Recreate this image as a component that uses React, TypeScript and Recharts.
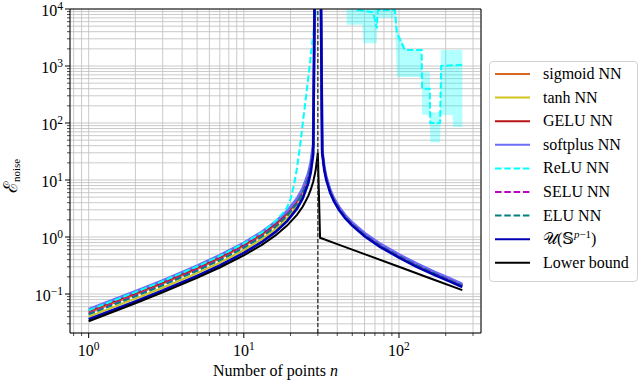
import React from 'react';
import { ComposedChart, Line, Area, XAxis, YAxis, CartesianGrid, ReferenceLine } from 'recharts';

const FONT = '"Liberation Serif", "DejaVu Serif", serif';

// x axis (number of points n), log scale
const xMajor = [1, 10, 100];
const xMajorExp = ['0', '1', '2'];
const xTicks = [0.8, 0.9, 1, 2, 3, 4, 5, 6, 7, 8, 9, 10, 20, 30, 40, 50, 60, 70, 80, 90, 100, 200, 300];

// y axis (noise error), log scale
const yMajor = [0.1, 1, 10, 100, 1000, 10000];
const yMajorExp = ['\u22121', '0', '1', '2', '3', '4'];
const yTicks = [
  0.03, 0.04, 0.05, 0.06, 0.07, 0.08, 0.09, 0.1,
  0.2, 0.3, 0.4, 0.5, 0.6, 0.7, 0.8, 0.9, 1,
  2, 3, 4, 5, 6, 7, 8, 9, 10,
  20, 30, 40, 50, 60, 70, 80, 90, 100,
  200, 300, 400, 500, 600, 700, 800, 900, 1000,
  2000, 3000, 4000, 5000, 6000, 7000, 8000, 9000, 10000,
];

// shared n grid for the smooth NN curves
const nGrid = [1, 2, 3, 5, 7, 10, 13, 16, 19, 22, 24, 26, 27, 28, 29, 30, 31, 32, 33, 34, 36, 38, 41, 45, 50, 60, 75, 100, 130, 170, 210, 256];

const sigmoid = [0.047, 0.098, 0.152, 0.275, 0.42, 0.695, 1.07, 1.62, 2.51, 4.15, 6.34, 11.4, 17.8, 37, 1e6, 1e6, 1e6, 32.1, 16.1, 10.7, 6.42, 4.59, 3.21, 2.29, 1.69, 1.1, 0.728, 0.465, 0.324, 0.231, 0.18, 0.142];
const tanh = [0.04, 0.083, 0.129, 0.233, 0.356, 0.589, 0.91, 1.38, 2.13, 3.52, 5.38, 9.7, 15.1, 31.4, 1e6, 1e6, 1e6, 31.2, 15.6, 10.4, 6.24, 4.46, 3.12, 2.23, 1.64, 1.07, 0.71, 0.452, 0.315, 0.225, 0.175, 0.138];
const gelu = [0.05, 0.104, 0.161, 0.292, 0.445, 0.737, 1.13, 1.72, 2.66, 4.4, 6.72, 12.1, 18.9, 39.2, 1e6, 1e6, 1e6, 33, 16.5, 11, 6.6, 4.71, 3.3, 2.36, 1.74, 1.13, 0.748, 0.479, 0.333, 0.238, 0.185, 0.146];
const softplus = [0.054, 0.111, 0.173, 0.312, 0.477, 0.789, 1.22, 1.85, 2.85, 4.71, 7.2, 13, 20.3, 42, 1e6, 1e6, 1e6, 33.9, 17, 11.3, 6.78, 4.84, 3.39, 2.42, 1.79, 1.17, 0.77, 0.492, 0.342, 0.244, 0.19, 0.15];
const selu = [0.0454, 0.094, 0.146, 0.265, 0.404, 0.668, 1.03, 1.56, 2.41, 3.99, 6.1, 11, 17.1, 35.6, 1e6, 1e6, 1e6, 31.8, 15.9, 10.6, 6.36, 4.54, 3.18, 2.27, 1.67, 1.09, 0.72, 0.461, 0.321, 0.229, 0.178, 0.141];
const elu = [0.044, 0.091, 0.142, 0.256, 0.391, 0.647, 1.0, 1.51, 2.34, 3.86, 5.9, 10.7, 16.6, 34.4, 1e6, 1e6, 1e6, 31.5, 15.8, 10.5, 6.3, 4.5, 3.15, 2.25, 1.66, 1.08, 0.714, 0.457, 0.318, 0.227, 0.176, 0.14];
const uniform = [0.036, 0.074, 0.115, 0.208, 0.318, 0.526, 0.81, 1.23, 1.9, 3.14, 4.8, 8.7, 13.5, 28, 1e6, 1e6, 1e6, 30, 15, 10, 6, 4.29, 3.0, 2.14, 1.58, 1.03, 0.68, 0.435, 0.3, 0.216, 0.168, 0.133];

// ReLU: left branch, right (noisy) branch and its shaded spread
const reluLeftN = [1, 2, 3, 5, 7, 10, 13, 16, 18, 19, 20, 21, 22, 23, 24, 25, 26, 27, 28, 29, 30];
const reluLeft = [0.052, 0.108, 0.168, 0.304, 0.465, 0.77, 1.19, 1.9, 2.7, 3.3, 4.6, 8, 16, 38, 100, 250, 600, 1500, 3500, 8000, 1e6];
const reluRightN = [31, 50, 54, 68, 72, 73, 94, 97, 109, 140, 141, 158, 159, 184, 187, 256];
const reluRight = [1e6, 3e4, 9700, 8800, 4600, 9600, 9600, 3800, 1900, 1900, 400, 400, 100, 100, 1000, 1050];
const bandN = [46, 58, 59, 72, 73, 94, 97, 112, 140, 141, 158, 159, 184, 186, 222, 223, 256];
const bandLow = [5300, 5300, 2500, 2500, 7000, 7000, 640, 640, 640, 140, 140, 46, 46, 138, 138, 85, 85];
const bandHigh = [1e5, 1e5, 1e5, 1e5, 1e5, 1e5, 4300, 1900, 1900, 800, 800, 155, 155, 1900, 1900, 1900, 1900];

const lowerN = [1, 2, 3, 5, 7, 10, 13, 16, 19, 22, 24, 26, 27, 28, 29, 30, 31, 40, 60, 100, 160, 256];
const lowerBound = [0.0333, 0.069, 0.107, 0.192, 0.292, 0.476, 0.722, 1.067, 1.583, 2.444, 3.429, 5.2, 6.75, 9.33, 14.5, 30, 0.968, 0.75, 0.5, 0.3, 0.1875, 0.117];

const pts = (ns: number[], vs: number[]) => ns.map((n, i) => ({ n, v: vs[i] }));
const bandPts = bandN.map((n, i) => ({ n, v: [bandLow[i], bandHigh[i]] }));

const DASH = '6.5 2.8';
const LW = 2;

const series = [
  { name: 'sigmoid NN', color: '#d9681f', dash: undefined, lw: LW, data: pts(nGrid, sigmoid) },
  { name: 'tanh NN', color: '#d0c41c', dash: undefined, lw: LW, data: pts(nGrid, tanh) },
  { name: 'GELU NN', color: '#b81414', dash: undefined, lw: LW, data: pts(nGrid, gelu) },
  { name: 'softplus NN', color: '#6c6cf8', dash: undefined, lw: 2.8, data: pts(nGrid, softplus) },
  { name: 'ReLU NN', color: '#00ffff', dash: DASH, lw: LW, data: pts(reluLeftN, reluLeft) },
  { name: 'SELU NN', color: '#c000c0', dash: DASH, lw: LW, data: pts(nGrid, selu) },
  { name: 'ELU NN', color: '#008080', dash: DASH, lw: LW, data: pts(nGrid, elu) },
  { name: 'U', color: '#0000b4', dash: undefined, lw: 2.6, data: pts(nGrid, uniform) },
  { name: 'Lower bound', color: '#000000', dash: undefined, lw: LW, data: pts(lowerN, lowerBound) },
];

function XTick(props: any) {
  const { x, y, payload } = props;
  const i = xMajor.indexOf(payload.value);
  const major = i >= 0;
  return (
    <g>
      <line x1={x} x2={x} y1={y} y2={y + (major ? 5 : 3)} stroke="#000" strokeWidth={major ? 1 : 0.7} />
      {major && (
        <text x={x} y={y + 23} textAnchor="middle" fontFamily={FONT} fontSize={16} fill="#000">
          10<tspan dy={-6.5} fontSize={11.5}>{xMajorExp[i]}</tspan>
        </text>
      )}
    </g>
  );
}

function YTick(props: any) {
  const { x, y, payload } = props;
  const i = yMajor.indexOf(payload.value);
  const major = i >= 0;
  return (
    <g>
      <line x1={x - (major ? 5 : 3)} x2={x} y1={y} y2={y} stroke="#000" strokeWidth={major ? 1 : 0.7} />
      {major && (
        <text x={x - 7} y={y + 7} textAnchor="end" fontFamily={FONT} fontSize={16} fill="#000">
          10<tspan dy={-6.5} fontSize={11.5}>{yMajorExp[i]}</tspan>
        </text>
      )}
    </g>
  );
}

function LegendBox() {
  const rowH = 23.6;
  return (
    <div
      style={{
        position: 'absolute', left: 489, top: 61, width: 149, height: 221, boxSizing: 'border-box',
        border: '1px solid #d3d3d3', borderRadius: 4, background: 'rgba(255,255,255,0.85)',
      }}
    >
      <svg width={147} height={219} style={{ position: 'absolute', left: 0, top: 0 }}>
        {series.map((s, i) => {
          const cy = 12 + i * rowH;
          return (
            <g key={s.name}>
              <line x1={5} x2={40} y1={cy} y2={cy} stroke={s.color} strokeWidth={LW} strokeDasharray={s.dash} />
              <text x={53} y={cy + 5} fontFamily={FONT} fontSize={16} fill="#000">
                {s.name === 'U' ? (
                  <>
                    {'\u{1D4B0}(\u{1D54A}'}
                    <tspan dy={-6} fontSize={11}>
                      <tspan fontStyle="italic">p</tspan>{'\u22121'}
                    </tspan>
                    <tspan dy={6}>)</tspan>
                  </>
                ) : s.name}
              </text>
            </g>
          );
        })}
      </svg>
    </div>
  );
}

export default function App() {
  return (
    <div style={{ position: 'absolute', left: 0, top: 0, width: 640, height: 382, background: '#fff' }}>
      <ComposedChart width={640} height={382} margin={{ top: 9, right: 159, bottom: 0, left: 8 }}>
        <CartesianGrid stroke="#c4c4c4" strokeWidth={0.9} />
        <XAxis
          dataKey="n"
          type="number"
          scale="log"
          domain={[0.758, 337.8]}
          allowDataOverflow
          ticks={xTicks}
          interval={0}
          tick={<XTick />}
          tickLine={false}
          tickSize={0}
          tickMargin={0}
          height={49}
          axisLine={{ stroke: '#000', strokeWidth: 1 }}
        />
        <YAxis
          dataKey="v"
          type="number"
          scale="log"
          domain={[0.0207, 10000]}
          allowDataOverflow
          ticks={yTicks}
          interval={0}
          tick={<YTick />}
          tickLine={false}
          tickSize={0}
          tickMargin={0}
          width={62}
          axisLine={{ stroke: '#000', strokeWidth: 1 }}
        />
        <Area
          data={bandPts}
          dataKey="v"
          type="linear"
          stroke="none"
          fill="#00ffff"
          fillOpacity={0.3}
          isAnimationActive={false}
          dot={false}
          activeDot={false}
        />
        {series.map((s) => (
          <Line
            key={s.name}
            data={s.data}
            dataKey="v"
            type="linear"
            stroke={s.color}
            strokeWidth={s.lw}
            strokeDasharray={s.dash}
            dot={false}
            activeDot={false}
            isAnimationActive={false}
          />
        ))}
        <Line
          data={pts(reluRightN, reluRight)}
          dataKey="v"
          type="linear"
          stroke="#00ffff"
          strokeWidth={LW}
          strokeDasharray={DASH}
          dot={false}
          activeDot={false}
          isAnimationActive={false}
        />
        <ReferenceLine x={30} stroke="#222" strokeWidth={1.2} strokeDasharray="4 2" />
        <ReferenceLine y={10000} stroke="#000" strokeWidth={1} />
        <ReferenceLine x={337.8} stroke="#000" strokeWidth={1} />
      </ComposedChart>
      <svg width={640} height={382} style={{ position: 'absolute', left: 0, top: 0, pointerEvents: 'none' }}>
        <text x={275.5} y={376} textAnchor="middle" fontFamily={FONT} fontSize={16} fill="#000">
          Number of points <tspan fontStyle="italic">n</tspan>
        </text>
        <text transform="translate(17,176) rotate(-90)" textAnchor="middle" fontFamily={FONT} fontSize={19} fill="#000">
          {'\u2130'}<tspan dy={3} fontSize={11}>noise</tspan>
        </text>
      </svg>
      <LegendBox />
    </div>
  );
}
